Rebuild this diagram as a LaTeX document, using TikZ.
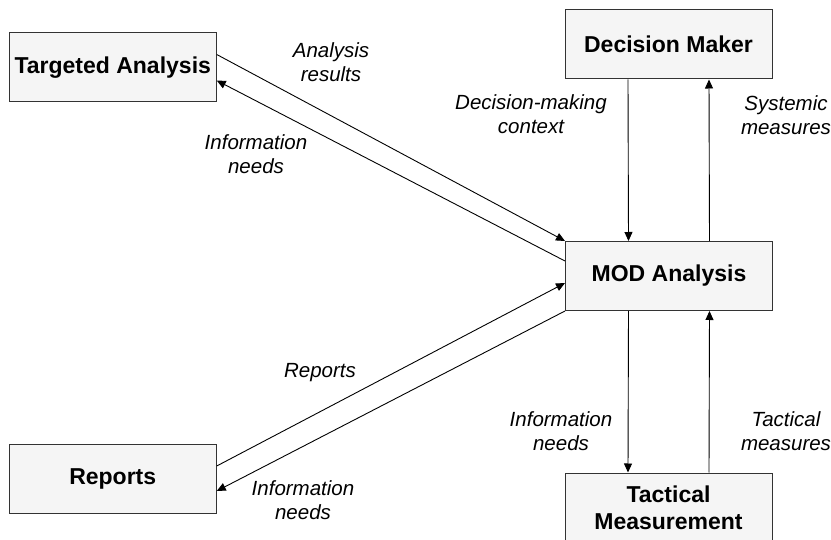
\documentclass[tikz,border=0pt]{standalone}
\usepackage{fontspec}
\setmainfont{Liberation Sans}
\usetikzlibrary{arrows.meta}

\tikzset{
    box/.style={draw=black!80, fill=black!4, line width=1pt,
        minimum width=207pt, minimum height=69pt, align=center,
        font=\bfseries\fontsize{23}{27}\selectfont},
    lbl/.style={align=center, inner sep=0pt,
        font=\itshape\fontsize{20.5}{24}\selectfont},
    flow/.style={line width=0.9pt, -{Triangle[length=9pt,width=8pt]}}
}

\begin{document}
\begin{tikzpicture}[x=1pt,y=-1pt]
    \useasboundingbox (0,0) rectangle (831,540);

    % boxes
    \node[box] (target) at (112.75,67.5) {Targeted Analysis};
    \node[box] (reports) at (112.75,479) {Reports};
    \node[box] (decision) at (668.5,44.5) {Decision Maker};
    \node[box] (mod) at (669,276) {MOD Analysis};
    \node[box] (tactical) at (668.5,507.5) {Tactical\\Measurement};

    % connectors
    \draw[flow] ([yshift=-22pt]target.north east) -- (mod.north west);
    \draw[flow] ([yshift=-20pt]mod.north west) -- ([yshift=-48pt]target.north east);
    \draw[flow] ([yshift=-22pt]reports.north east) -- ([yshift=-42pt]mod.north west);
    \draw[flow] (mod.south west) -- ([yshift=-47pt]reports.north east);

    \draw[flow] ([xshift=-40.5pt]decision.south) -- ([xshift=-40.5pt]mod.north);
    \draw[flow] ([xshift=40.5pt]mod.north) -- ([xshift=40.5pt]decision.south);
    \draw[flow] ([xshift=-40.5pt]mod.south) -- ([xshift=-40.5pt]tactical.north);
    \draw[flow] ([xshift=40.5pt]tactical.north) -- ([xshift=40.5pt]mod.south);

    % labels
    \node[lbl] (resultsLbl) at (331,62) {Analysis\\results};
    \node[lbl] (needsTop) at (256,154) {Information\\needs};
    \node[lbl] (contextLbl) at (531,114) {Decision-making\\context};
    \node[lbl] (systemicLbl) at (786,115) {Systemic\\measures};
    \node[lbl] (reportsLbl) at (320,373) {Reports};
    \node[lbl] (needsLow) at (303,500) {Information\\needs};
    \node[lbl] (needsRight) at (561,431) {Information\\needs};
    \node[lbl] (tacticalLbl) at (786,431) {Tactical\\measures};
\end{tikzpicture}
\end{document}
